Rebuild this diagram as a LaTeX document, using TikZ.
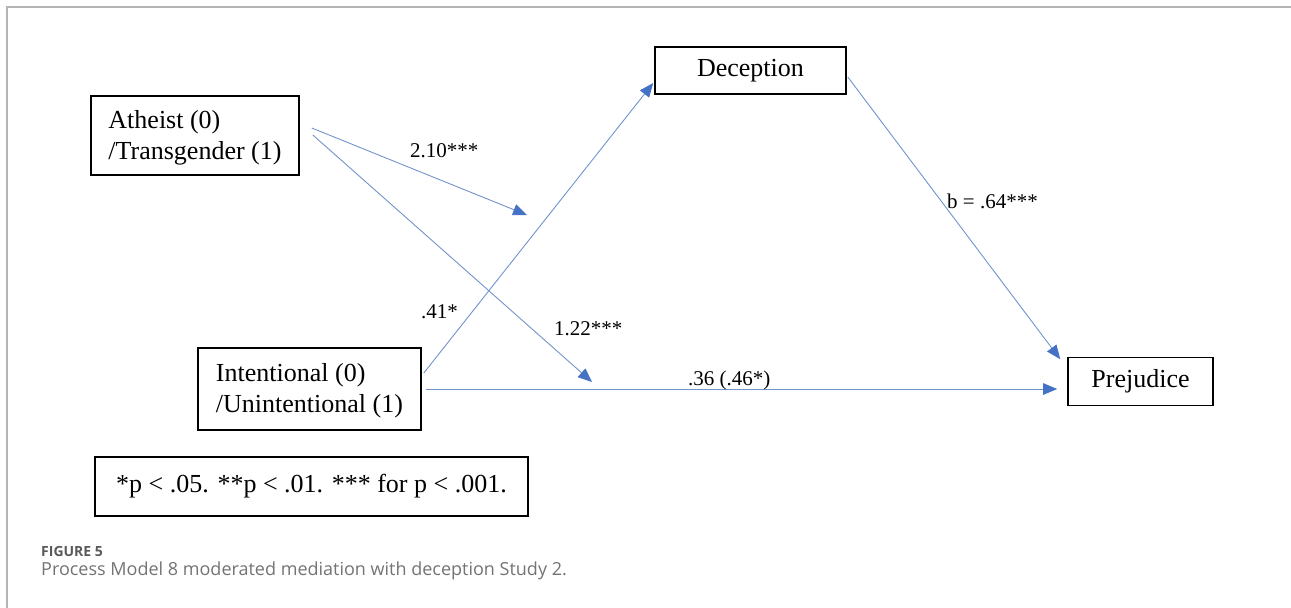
\documentclass[tikz,border=0pt]{standalone}
\usepackage{fontspec}
\setmainfont{Liberation Serif}
\newfontfamily\capfont{Open Sans}
\usetikzlibrary{arrows.meta,positioning}
\definecolor{PMLine}{HTML}{7393CB}
\definecolor{PMTip}{HTML}{4472C4}
\definecolor{PMFrame}{HTML}{B4B4B4}
\definecolor{PMCapHead}{HTML}{5A5A5A}
\definecolor{PMCap}{HTML}{737373}
\tikzset{
  flow/.style={-{Triangle[length=14pt,width=11.5pt,color=PMTip]},draw=PMLine,line width=0.9pt},
  var/.style={draw=black,line width=1.6pt,inner sep=0pt,font=\fontsize{26}{31}\selectfont,align=center},
  varleft/.style={var,align=left},
  coef/.style={font=\fontsize{21}{25}\selectfont,inner sep=0pt,anchor=base west},
  frame/.style={draw=PMFrame,line width=1.5pt},
  caphead/.style={text=PMCapHead,font=\capfont\bfseries\fontsize{14}{17}\selectfont,inner sep=0pt,anchor=base west},
  captext/.style={text=PMCap,font=\capfont\fontsize{18}{21}\selectfont,inner sep=0pt,anchor=base west},
}

\begin{document}
\begin{tikzpicture}[x=1pt,y=-1pt]
    \useasboundingbox (0,0) rectangle (1291,608);
    \draw[frame] (7,608)--(7,7)--(1291,7);

    % variables
    \node[varleft,minimum width=208pt,minimum height=79pt] (ath) at (195,135.5)
      {\strut Atheist (0)\\/Transgender (1)};
    \node[varleft,minimum width=223pt,minimum height=82pt] (intent) at (309.5,389)
      {\strut Intentional (0)\\/Unintentional (1)};
    \node[var,minimum width=191pt,minimum height=47pt] (decep) at (750.5,70.5) {\strut Deception};
    \node[var,minimum width=145pt,minimum height=48pt] (prej) at (1140.5,381.5) {\strut Prejudice};
    \node[var,minimum width=433pt,minimum height=59pt] (note) at (311.5,486.5)
      {*p < .05. **p < .01. *** for p < .001.};

    % moderation ends
    \coordinate (modA) at (527,215);
    \coordinate (modB) at (592,382);

    \draw[flow] ([xshift=12pt,yshift=7.5pt]ath.east) -- (modA);
    \draw[flow] ([xshift=13pt,yshift=0.5pt]ath.east) -- (modB);
    \draw[flow] ([xshift=2pt,yshift=16pt]intent.east) -- ([xshift=-1pt,yshift=-12.5pt]decep.west);
    \draw[flow] ([xshift=4pt]intent.east) -- ([xshift=-10pt]intent.east -| prej.west);
    \draw[flow] ([xshift=1pt,yshift=-6.5pt]decep.east) -- ([xshift=-7pt,yshift=-2.5pt]prej.north west);

    \node[coef] (c210) at (410,157) {2.10***};
    \node[coef] (c122) at (554,335) {1.22***};
    \node[coef] (c41) at (421,318) {.41*};
    \node[coef] (c36) at (688,385) {.36 (.46*)};
    \node[coef] (c64) at (947,208) {b = .64***};

    \node[caphead] (fig) at (41,556) {FIGURE 5};
    \node[captext] (cap) at (41,575) {Process Model 8 moderated mediation with deception Study 2.};
\end{tikzpicture}
\end{document}
